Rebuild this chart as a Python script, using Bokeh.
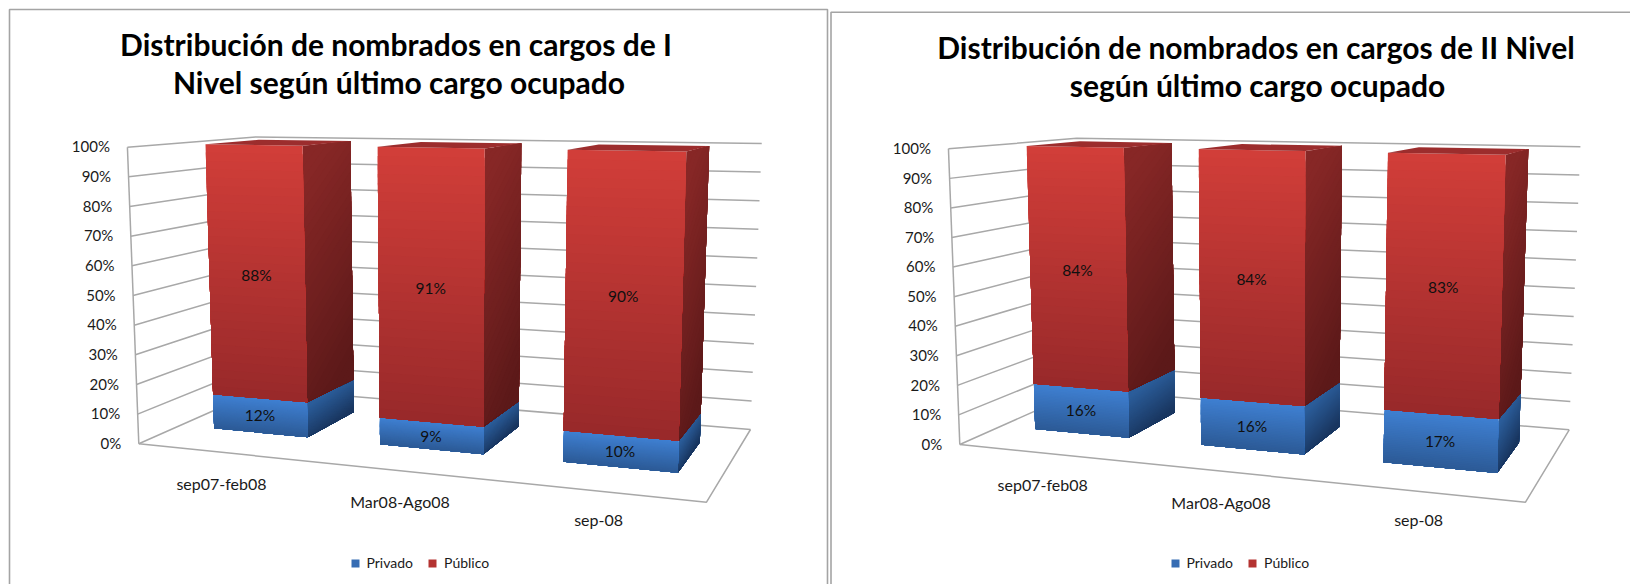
import numpy as np
from bokeh.core.properties import value
from bokeh.embed import file_html
from bokeh.layouts import row
from bokeh.models import ColumnDataSource, Legend, LegendItem
from bokeh.plotting import figure
from bokeh.resources import INLINE

# ---- chart data -------------------------------------------------------
categories = ["sep07-feb08", "Mar08-Ago08", "sep-08"]
value_ticks = [0, 10, 20, 30, 40, 50, 60, 70, 80, 90, 100]
series_names = ["Privado", "Público"]

title_nivel_1 = ["Distribución de nombrados en cargos de I", "Nivel según último cargo ocupado"]
privado_nivel_1 = [12, 9, 10]
publico_nivel_1 = [88, 91, 90]

title_nivel_2 = ["Distribución de nombrados en cargos de II Nivel", "según último cargo ocupado"]
privado_nivel_2 = [16, 16, 17]
publico_nivel_2 = [84, 84, 83]

# ---- 3-D box of each chart, as pictured (page pixels) ------------------
# floor corners: front-left, front-right, back-right, back-left
box_1 = dict(floor=[(138.3, 443.3), (706, 501.7), (750, 429), (262, 388.5)],
             lift=296.6, lean=0.037, lean_x=446)
box_2 = dict(floor=[(959.3, 444), (1525, 501.7), (1568.7, 429.3), (1083, 389)],
             lift=295.7, lean=0.037, lean_x=1266)

HALF_WIDTH = 0.096      # of the category axis
DEPTH = (0.305, 0.74)   # of the depth axis
CATEGORY_DROP = [31.5, 31, 28.5]
FONT = "Lato"
GRID = "#a8a8a8"
RED = dict(front=("#D23E39", "#98292A"), side=("#872726", "#5C1919"), top="#9C2D2D")
BLUE = dict(front=("#3F80D2", "#2C5A96"), side=("#2B5D9A", "#193660"))
BANDS = 30
SLANT = 0.25


def projection(q):
    (x0, y0), (x1, y1), (x2, y2), (x3, y3) = q
    dx1, dx2, sx = x1 - x2, x3 - x2, x0 - x1 + x2 - x3
    dy1, dy2, sy = y1 - y2, y3 - y2, y0 - y1 + y2 - y3
    den = dx1 * dy2 - dx2 * dy1
    g = (sx * dy2 - dx2 * sy) / den
    h = (dx1 * sy - sx * dy1) / den
    a, b = x1 - x0 + g * x1, x3 - x0 + h * x3
    d, e = y1 - y0 + g * y1, y3 - y0 + h * y3

    def f(u, w):
        s = g * u + h * w + 1
        return (a * u + b * w + x0) / s, (d * u + e * w + y0) / s, s
    return f


def mix(c0, c1, t):
    t = min(max(t, 0), 1)
    a = [int(c0[i:i + 2], 16) for i in (1, 3, 5)]
    b = [int(c1[i:i + 2], 16) for i in (1, 3, 5)]
    return "#%02x%02x%02x" % tuple(round(p + (q - p) * t) for p, q in zip(a, b))


def panel(title, privado, publico, box, x0, x1, frame, title_xs, title_ys, legend_xy, tick_dx):
    p = figure(width=x1 - x0, height=584, x_range=(x0, x1), y_range=(584, 0),
               output_backend="svg", toolbar_location=None, min_border=0,
               outline_line_color=None, background_fill_color="white")
    p.axis.visible = False
    p.grid.visible = False

    floor = projection(box["floor"])

    def pt(u, w, v):
        fx, fy, s = floor(u, w)
        return (fx + box["lean"] * (fx - box["lean_x"]) * v,
                fy - box["lift"] * (1 - 0.008 * u) / s * v)

    # panel frame
    p.line(frame[0], frame[1], line_color="#a4a4a4", line_width=1.6)

    # walls and floor
    xs, ys = [], []
    for t in value_ticks:
        v = t / 100
        a, b, c = pt(0, 0, v), pt(0, 1, v), pt(1, 1, v)
        xs.append([a[0], b[0], c[0]])
        ys.append([a[1], b[1], c[1]])
    a, b, c, d = pt(0, 0, 0), pt(0, 0, 1), pt(1, 0, 0), pt(1, 1, 0)
    xs += [[a[0], b[0]], [a[0], c[0], d[0]]]
    ys += [[a[1], b[1]], [a[1], c[1], d[1]]]
    p.multi_line(xs, ys, line_color=GRID, line_width=1.5)

    # tick labels
    tp = [pt(0, 0, t / 100) for t in value_ticks]
    p.text([q[0] + tick_dx for q in tp], [q[1] - 0.8 for q in tp], text=[f"{t}%" for t in value_ticks],
           text_font=value(FONT), text_font_size="15px", text_color="#1a1a1a",
           text_align="right", text_baseline="middle")

    # bars: each gradient is painted as overlapping bands, from the top down
    def faces(values, base, style):
        qx, qy, col = [], [], []

        def add(q, colour):
            qx.append([c[0] for c in q])
            qy.append([c[1] for c in q])
            col.append(colour)

        for i, (val, b0) in enumerate(zip(values, base)):
            u0, u1 = (i + .5) / 3 - HALF_WIDTH, (i + .5) / 3 + HALF_WIDTH
            w0, w1 = DEPTH
            v0, v1 = b0 / 100, (b0 + val) / 100
            for k in range(BANDS):
                t = -SLANT / 2 + (1 + SLANT) * k / BANDS
                edge = []
                for wf in (0, .25, .5, .75, 1):
                    f = min(max(t - SLANT * (wf - .5), 0), 1)
                    edge.append(pt(u1, w0 + (w1 - w0) * wf, v1 + (v0 - v1) * f))
                add(edge + [pt(u1, w1, v0), pt(u1, w0, v0)],
                    mix(*style["side"], t + (1 + SLANT) / BANDS / 2))
            for k in range(BANDS):
                a0 = v1 + (v0 - v1) * k / BANDS
                add([pt(u0, w0, a0), pt(u1, w0, a0), pt(u1, w0, v0), pt(u0, w0, v0)],
                    mix(*style["front"], (k + .5) / BANDS))
            if "top" in style:
                add([pt(u0, w0, v1), pt(u1, w0, v1), pt(u1, w1, v1), pt(u0, w1, v1)], style["top"])
        return ColumnDataSource(dict(xs=qx, ys=qy, c=col))

    swatch = BANDS + BANDS // 2
    blue = p.patches("xs", "ys", fill_color="c", line_color=None,
                     source=faces(privado, [0, 0, 0], BLUE))
    red = p.patches("xs", "ys", fill_color="c", line_color=None,
                    source=faces(publico, privado, RED))

    # data labels, in the middle of each front face
    lx, ly, lt = [], [], []
    for i in range(3):
        uc = (i + .5) / 3
        for val, b0, dy in ((privado[i], 0, 0), (publico[i], privado[i], 3)):
            q = pt(uc, DEPTH[0], (b0 + val / 2) / 100)
            lx.append(q[0])
            ly.append(q[1] + dy)
            lt.append(f"{val}%")
    p.text(lx, ly, text=lt, text_font=value(FONT), text_font_size="15.5px", text_color="#101010",
           text_align="center", text_baseline="middle")

    # category labels below the front edge
    cp = [floor((i + .5) / 3, 0) for i in range(3)]
    p.text([q[0] for q in cp], [q[1] + drop for q, drop in zip(cp, CATEGORY_DROP)], text=categories,
           text_font=value(FONT), text_font_size="16px", text_color="#1a1a1a",
           text_align="center", text_baseline="middle")

    # title
    p.text(title_xs, title_ys, text=title, text_font=value(FONT), text_font_size="30px",
           text_font_style="bold", text_color="#000000", text_align="center", text_baseline="middle")

    legend = Legend(items=[LegendItem(label=series_names[0], renderers=[blue], index=swatch),
                           LegendItem(label=series_names[1], renderers=[red], index=swatch)],
                    orientation="horizontal", location=(legend_xy[0] - x0, 584 - legend_xy[1]),
                    glyph_width=10, glyph_height=10, label_standoff=7, spacing=14, padding=0, margin=0,
                    label_height=14, label_text_font=FONT, label_text_font_size="14px",
                    label_text_color="#1a1a1a", background_fill_alpha=0, border_line_alpha=0)
    p.add_layout(legend)
    return p


p1 = panel(title_nivel_1, privado_nivel_1, publico_nivel_1, box_1, 0, 829,
           ([9, 9, 827, 827], [584, 9, 9, 584]), [395.5, 398.5], [43, 81], (349.5, 571), -17.5)
p2 = panel(title_nivel_2, privado_nivel_2, publico_nivel_2, box_2, 829, 1630,
           ([830.5, 830.5, 1630], [584, 11.7, 11.7]), [1255.5, 1257], [46, 84], (1169.5, 571), -17.5)

layout = row(p1, p2, spacing=0)
open("out.html", "w").write(file_html(layout, INLINE))
